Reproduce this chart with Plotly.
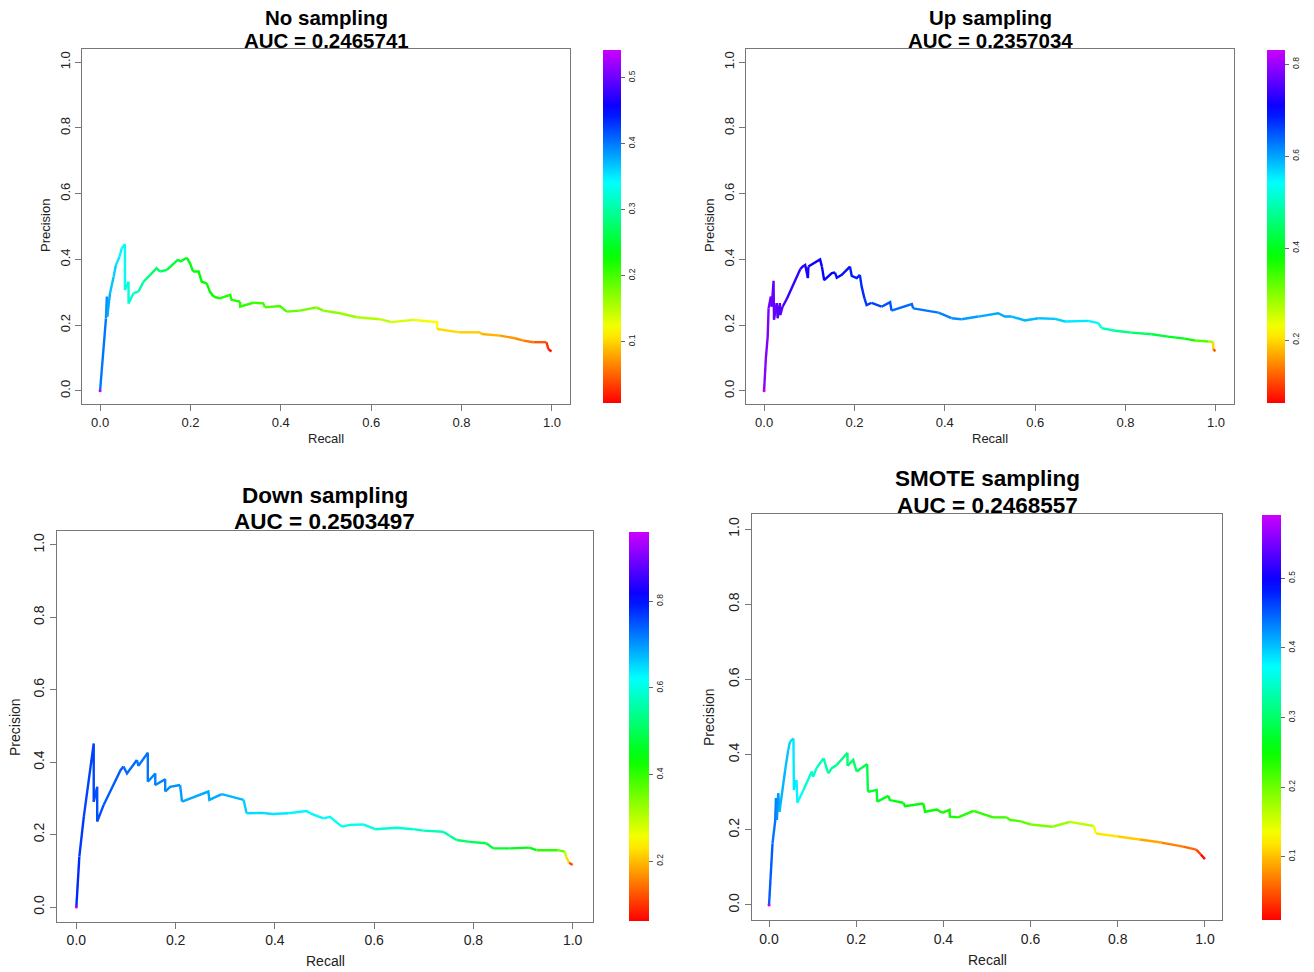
import colorsys
import plotly.graph_objects as go

W, H = 1314, 972

# ---------------- data ----------------
titles = ["No sampling", "Up sampling", "Down sampling", "SMOTE sampling"]
auc_values = ["0.2465741", "0.2357034", "0.2503497", "0.2468557"]

rec_no = [0.000, 0.013, 0.015, 0.016, 0.022, 0.030, 0.035, 0.043, 0.048, 0.055,
          0.055, 0.063, 0.063, 0.074, 0.085, 0.096, 0.111, 0.125, 0.133, 0.148,
          0.173, 0.177, 0.192, 0.199, 0.206, 0.218, 0.225, 0.236, 0.243, 0.251,
          0.265, 0.288, 0.291, 0.310, 0.310, 0.339, 0.361, 0.365, 0.398, 0.413,
          0.442, 0.479, 0.494, 0.531, 0.568, 0.619, 0.645, 0.693, 0.730, 0.746,
          0.746, 0.796, 0.841, 0.844, 0.885, 0.918, 0.937, 0.959, 0.988, 0.992, 0.999]
prec_no = [0.000, 0.220, 0.287, 0.226, 0.297, 0.347, 0.383, 0.408, 0.434, 0.446,
           0.307, 0.332, 0.266, 0.297, 0.302, 0.332, 0.353, 0.373, 0.363, 0.368,
           0.400, 0.393, 0.405, 0.388, 0.363, 0.363, 0.332, 0.327, 0.302, 0.287,
           0.281, 0.292, 0.277, 0.271, 0.256, 0.268, 0.266, 0.254, 0.258, 0.241,
           0.244, 0.254, 0.244, 0.236, 0.224, 0.218, 0.209, 0.216, 0.211, 0.209,
           0.188, 0.178, 0.178, 0.173, 0.168, 0.160, 0.153, 0.148, 0.148, 0.127, 0.120]
thr_no = [0.540, 0.400, 0.390, 0.390, 0.380, 0.370, 0.360, 0.350, 0.345, 0.340,
          0.335, 0.330, 0.325, 0.320, 0.310, 0.300, 0.290, 0.280, 0.275, 0.270,
          0.255, 0.250, 0.245, 0.240, 0.237, 0.235, 0.232, 0.230, 0.228, 0.225,
          0.222, 0.218, 0.216, 0.213, 0.211, 0.208, 0.205, 0.203, 0.200, 0.196,
          0.190, 0.182, 0.178, 0.170, 0.163, 0.152, 0.147, 0.135, 0.125, 0.120,
          0.117, 0.105, 0.095, 0.094, 0.085, 0.075, 0.068, 0.060, 0.045, 0.030, 0.010]

rec_up = [0.000, 0.004, 0.008, 0.010, 0.015, 0.017, 0.021, 0.022, 0.028, 0.030,
          0.035, 0.036, 0.041, 0.046, 0.050, 0.080, 0.085, 0.091, 0.097, 0.098,
          0.124, 0.128, 0.133, 0.150, 0.157, 0.161, 0.172, 0.190, 0.194, 0.205,
          0.212, 0.216, 0.222, 0.227, 0.238, 0.253, 0.260, 0.279, 0.282, 0.327,
          0.330, 0.356, 0.386, 0.415, 0.437, 0.474, 0.518, 0.533, 0.548, 0.577,
          0.607, 0.644, 0.666, 0.717, 0.740, 0.747, 0.777, 0.813, 0.858, 0.894,
          0.931, 0.954, 0.983, 0.994, 0.994, 0.999]
prec_up = [0.000, 0.100, 0.165, 0.251, 0.287, 0.256, 0.335, 0.216, 0.267, 0.221,
           0.267, 0.231, 0.256, 0.267, 0.279, 0.370, 0.378, 0.383, 0.343, 0.378,
           0.400, 0.378, 0.337, 0.358, 0.360, 0.344, 0.353, 0.378, 0.350, 0.343,
           0.353, 0.317, 0.282, 0.261, 0.268, 0.261, 0.256, 0.270, 0.244, 0.264,
           0.251, 0.246, 0.238, 0.221, 0.218, 0.226, 0.236, 0.226, 0.226, 0.214,
           0.221, 0.219, 0.211, 0.213, 0.206, 0.191, 0.183, 0.177, 0.172, 0.165,
           0.159, 0.153, 0.150, 0.148, 0.127, 0.120]
thr_up = [0.830, 0.790, 0.785, 0.780, 0.775, 0.772, 0.770, 0.768, 0.765, 0.762,
          0.760, 0.758, 0.755, 0.752, 0.750, 0.730, 0.727, 0.725, 0.722, 0.720,
          0.710, 0.708, 0.705, 0.700, 0.698, 0.696, 0.693, 0.690, 0.688, 0.685,
          0.682, 0.680, 0.675, 0.672, 0.668, 0.665, 0.662, 0.655, 0.652, 0.640,
          0.638, 0.632, 0.625, 0.618, 0.614, 0.608, 0.600, 0.597, 0.594, 0.590,
          0.585, 0.578, 0.573, 0.560, 0.550, 0.535, 0.500, 0.470, 0.440, 0.420,
          0.400, 0.380, 0.330, 0.280, 0.200, 0.120]

rec_dn = [0.000, 0.006, 0.008, 0.015, 0.025, 0.035, 0.035, 0.042, 0.042, 0.055,
          0.065, 0.089, 0.095, 0.102, 0.122, 0.125, 0.144, 0.144, 0.159, 0.159,
          0.179, 0.179, 0.189, 0.209, 0.213, 0.266, 0.268, 0.293, 0.313, 0.327,
          0.337, 0.343, 0.374, 0.394, 0.427, 0.464, 0.474, 0.498, 0.511, 0.535,
          0.551, 0.578, 0.602, 0.645, 0.679, 0.699, 0.739, 0.753, 0.766, 0.793,
          0.826, 0.840, 0.873, 0.913, 0.927, 0.970, 0.984, 0.987, 0.993, 1.000]
prec_dn = [0.000, 0.139, 0.167, 0.249, 0.351, 0.452, 0.291, 0.332, 0.236, 0.282,
           0.309, 0.378, 0.388, 0.369, 0.406, 0.390, 0.426, 0.346, 0.369, 0.337,
           0.353, 0.319, 0.332, 0.337, 0.291, 0.319, 0.296, 0.312, 0.305, 0.300,
           0.296, 0.259, 0.260, 0.257, 0.259, 0.265, 0.257, 0.245, 0.249, 0.222,
           0.227, 0.228, 0.215, 0.219, 0.215, 0.211, 0.208, 0.196, 0.185, 0.180,
           0.176, 0.162, 0.162, 0.164, 0.157, 0.157, 0.153, 0.139, 0.122, 0.116]
thr_dn = [0.960, 0.780, 0.775, 0.770, 0.765, 0.760, 0.757, 0.755, 0.752, 0.750,
          0.745, 0.740, 0.738, 0.735, 0.730, 0.728, 0.725, 0.720, 0.718, 0.715,
          0.712, 0.710, 0.708, 0.705, 0.700, 0.690, 0.688, 0.683, 0.678, 0.675,
          0.672, 0.660, 0.650, 0.645, 0.638, 0.632, 0.630, 0.625, 0.622, 0.615,
          0.612, 0.608, 0.602, 0.595, 0.588, 0.583, 0.570, 0.560, 0.540, 0.520,
          0.500, 0.480, 0.470, 0.455, 0.450, 0.400, 0.360, 0.300, 0.220, 0.120]

rec_sm = [0.000, 0.008, 0.014, 0.016, 0.018, 0.021, 0.024, 0.037, 0.044, 0.048,
          0.056, 0.057, 0.063, 0.065, 0.079, 0.098, 0.101, 0.109, 0.125, 0.136,
          0.144, 0.155, 0.180, 0.180, 0.193, 0.201, 0.225, 0.227, 0.247, 0.248,
          0.274, 0.277, 0.308, 0.312, 0.354, 0.358, 0.385, 0.397, 0.414, 0.415,
          0.434, 0.469, 0.514, 0.545, 0.553, 0.576, 0.600, 0.650, 0.690, 0.745,
          0.750, 0.800, 0.850, 0.900, 0.950, 0.980, 0.990, 1.000]
prec_sm = [0.000, 0.164, 0.222, 0.284, 0.226, 0.297, 0.248, 0.359, 0.412, 0.434,
           0.443, 0.306, 0.332, 0.272, 0.306, 0.355, 0.341, 0.364, 0.390, 0.350,
           0.364, 0.372, 0.405, 0.370, 0.386, 0.355, 0.375, 0.301, 0.306, 0.275,
           0.290, 0.279, 0.272, 0.263, 0.270, 0.248, 0.254, 0.245, 0.253, 0.235,
           0.233, 0.250, 0.233, 0.233, 0.226, 0.223, 0.214, 0.208, 0.221, 0.210,
           0.190, 0.182, 0.174, 0.166, 0.155, 0.147, 0.135, 0.122]
thr_sm = [0.590, 0.450, 0.440, 0.435, 0.430, 0.425, 0.420, 0.410, 0.400, 0.395,
          0.390, 0.385, 0.380, 0.375, 0.370, 0.355, 0.350, 0.345, 0.340, 0.335,
          0.330, 0.325, 0.315, 0.310, 0.305, 0.300, 0.290, 0.285, 0.275, 0.272,
          0.265, 0.262, 0.258, 0.256, 0.252, 0.250, 0.247, 0.245, 0.243, 0.242,
          0.240, 0.235, 0.228, 0.222, 0.220, 0.215, 0.208, 0.195, 0.180, 0.160,
          0.140, 0.120, 0.105, 0.090, 0.070, 0.055, 0.040, 0.015]

curves = [(rec_no, prec_no, thr_no), (rec_up, prec_up, thr_up),
          (rec_dn, prec_dn, thr_dn), (rec_sm, prec_sm, thr_sm)]

cbar_min = [0.007, 0.063, 0.062, 0.009]
cbar_max = [0.542, 0.831, 0.960, 0.591]
cbar_ticks = [[0.1, 0.2, 0.3, 0.4, 0.5], [0.2, 0.4, 0.6, 0.8],
              [0.2, 0.4, 0.6, 0.8], [0.1, 0.2, 0.3, 0.4, 0.5]]
axis_ticks = [0.0, 0.2, 0.4, 0.6, 0.8, 1.0]

# ---------------- layout (pixels) ----------------
panels = [
    dict(box=(82, 570, 49, 404), cbar=(603, 621, 50, 403), ty=(17.0, 40.5), tf=20.5,
         fs=13, xl=(326, 438), yl=(45, 226)),
    dict(box=(746, 1234, 49, 404), cbar=(1267, 1285, 50, 403), ty=(17.0, 40.5), tf=20.5,
         fs=13, xl=(990, 438), yl=(709, 226)),
    dict(box=(56.5, 592.5, 530.5, 921.5), cbar=(629, 649, 532, 921), ty=(495.0, 521.5), tf=22.5,
         fs=14, xl=(325, 961), yl=(15, 727)),
    dict(box=(751.6, 1222.4, 514, 920), cbar=(1262, 1281, 515, 920), ty=(478.0, 505), tf=22.5,
         fs=14, xl=(987, 960), yl=(709, 717)),
]

FONT = "Liberation Sans, Arial, Helvetica, sans-serif"
HUE_END = 0.8


def hsv_color(f):
    f = min(1.0, max(0.0, f))
    r, g, b = colorsys.hsv_to_rgb(HUE_END * f, 1.0, 1.0)
    return "rgb(%d,%d,%d)" % (round(r * 255), round(g * 255), round(b * 255))


colorscale = [[i / 32, hsv_color(i / 32)] for i in range(33)]

fig = go.Figure()
annotations = []
NLEV = 96

for k, (p, (rec, prec, thr)) in enumerate(zip(panels, curves)):
    sfx = "" if k == 0 else str(k + 1)
    xa, ya = "x" + sfx, "y" + sfx
    vmin, vmax = cbar_min[k], cbar_max[k]

    # group consecutive segments of equal colour level
    groups = []
    cur, cur_lev = [], None
    for i in range(len(rec) - 1):
        f = (thr[i + 1] - vmin) / (vmax - vmin)
        lev = int(round(min(1, max(0, f)) * (NLEV - 1)))
        if lev != cur_lev:
            if cur:
                groups.append((cur_lev, cur))
            cur, cur_lev = [i, i + 1], lev
        else:
            cur.append(i + 1)
    if cur:
        groups.append((cur_lev, cur))

    for lev, idx in groups:
        fig.add_trace(go.Scatter(
            x=[rec[j] for j in idx], y=[prec[j] for j in idx], mode="lines",
            line=dict(color=hsv_color(lev / (NLEV - 1)), width=2.4),
            xaxis=xa, yaxis=ya, showlegend=False, hoverinfo="skip"))

    cx0, cx1, cy0, cy1 = p["cbar"]
    fig.add_trace(go.Scatter(
        x=[rec[0]], y=[prec[0]], mode="markers", xaxis=xa, yaxis=ya, showlegend=False,
        hoverinfo="skip",
        marker=dict(size=3, color=[thr[0]], colorscale=colorscale, cmin=vmin, cmax=vmax,
                    showscale=True,
                    colorbar=dict(x=cx0 / W, xanchor="left", y=1 - cy0 / H, yanchor="top",
                                  len=cy1 - cy0, lenmode="pixels",
                                  thickness=cx1 - cx0, thicknessmode="pixels",
                                  xpad=0, ypad=0, outlinewidth=0,
                                  ticks="outside", ticklen=4, tickwidth=1, tickcolor="#666",
                                  tickvals=cbar_ticks[k],
                                  ticktext=["%.1f" % v for v in cbar_ticks[k]],
                                  tickangle=-90,
                                  tickfont=dict(family=FONT, size=8.5, color="#222")))))

    bx0, bx1, by0, by1 = p["box"]
    axcommon = dict(range=[-0.04, 1.04], showgrid=False, zeroline=False,
                    showline=True, mirror=True, linecolor="#777", linewidth=1,
                    ticks="outside", ticklen=6, tickwidth=1, tickcolor="#777",
                    tickvals=axis_ticks, ticktext=["%.1f" % v for v in axis_ticks],
                    tickfont=dict(family=FONT, size=p["fs"], color="#222"))
    fig.update_layout(**{
        "xaxis" + sfx: dict(domain=[bx0 / W, bx1 / W], anchor=ya, **axcommon),
        "yaxis" + sfx: dict(domain=[1 - by1 / H, 1 - by0 / H], anchor=xa, tickangle=-90,
                            **axcommon),
    })

    cxm = (bx0 + bx1) / 2
    annotations.append(dict(text="<b>%s</b>" % titles[k], x=cxm / W, y=1 - p["ty"][0] / H,
                            xref="paper", yref="paper", showarrow=False, xanchor="center",
                            yanchor="middle", font=dict(family=FONT, size=p["tf"], color="#000")))
    annotations.append(dict(text="<b>AUC = %s</b>" % auc_values[k], x=cxm / W,
                            y=1 - p["ty"][1] / H, xref="paper", yref="paper", showarrow=False,
                            xanchor="center", yanchor="middle",
                            font=dict(family=FONT, size=p["tf"], color="#000")))
    annotations.append(dict(text="Recall", x=p["xl"][0] / W, y=1 - p["xl"][1] / H,
                            xref="paper", yref="paper", showarrow=False, xanchor="center",
                            yanchor="middle", font=dict(family=FONT, size=p["fs"], color="#222")))
    annotations.append(dict(text="Precision", x=p["yl"][0] / W, y=1 - p["yl"][1] / H,
                            xref="paper", yref="paper", showarrow=False, xanchor="center",
                            yanchor="middle", textangle=-90,
                            font=dict(family=FONT, size=p["fs"], color="#222")))

fig.update_layout(width=W, height=H, autosize=False,
                  margin=dict(l=0, r=0, t=0, b=0, pad=0),
                  paper_bgcolor="white", plot_bgcolor="white",
                  annotations=annotations, font=dict(family=FONT))

fig.write_html("out.html", config={"displayModeBar": False},
               post_script="document.body.style.margin='0';")
